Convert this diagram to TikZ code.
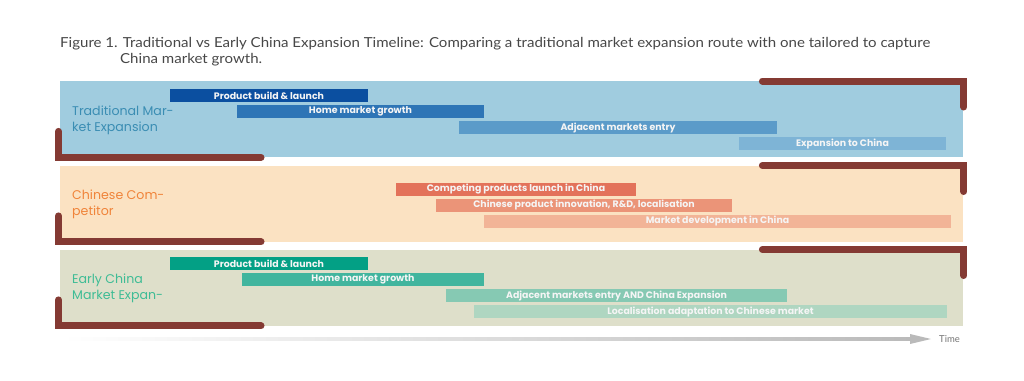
\documentclass[tikz,border=0pt]{standalone}
\usepackage{fontspec}
\setmainfont{Poppins}
\newfontfamily\titlefont[FakeStretch = 1.09]{Lato}
\newfontfamily\timefont{Lato}
\usepackage{tikz}
\usetikzlibrary{positioning}

\definecolor{bandBlue}{HTML}{A0CCDF}
\definecolor{bandPeach}{HTML}{FBE2C2}
\definecolor{bandSage}{HTML}{DEDFCA}
\definecolor{bracketRed}{HTML}{843A33}
\definecolor{tradText}{HTML}{3A8DB3}
\definecolor{compText}{HTML}{F0843A}
\definecolor{earlyText}{HTML}{3EBC95}
\definecolor{tradA}{HTML}{0B4FA0}
\definecolor{tradB}{HTML}{2E75B6}
\definecolor{tradC}{HTML}{5B9BC9}
\definecolor{tradD}{HTML}{7EB4D6}
\definecolor{compA}{HTML}{E3725A}
\definecolor{compB}{HTML}{EB9478}
\definecolor{compC}{HTML}{F2B497}
\definecolor{earlyA}{HTML}{03A085}
\definecolor{earlyB}{HTML}{41B59E}
\definecolor{earlyC}{HTML}{86C9B3}
\definecolor{earlyD}{HTML}{AFD6C1}
\definecolor{titleGray}{HTML}{474747}

\begin{document}
\begin{tikzpicture}
        [
            x = 1pt, y = -1pt,
            band/.style = {anchor = north west, inner sep = 0, minimum width = 903pt, minimum height = 76pt},
            bar/.style = {fill = #1, inner sep = 0, minimum height = 13pt, text = white!96!black,
                font = \fontsize{9.4}{10}\selectfont\bfseries},
            rowlabel/.style = {anchor = west, align = left, inner sep = 0, text = #1,
                font = \fontsize{12.6}{16}\selectfont},
            bracket/.style = {draw = bracketRed, line width = 7pt, line cap = round, line join = miter}]
        \useasboundingbox (0,0) rectangle (1024,380);
        % title
        \node [anchor = north west, align = left, inner sep = 0, text = titleGray,
            font = \titlefont\fontsize{13.8}{16}\selectfont] (title) at (60,37)
            {Figure 1. Traditional vs Early China Expansion Timeline: Comparing a traditional market expansion route with one tailored to capture\\
             \hspace*{60pt}China market growth.};
        % bands
        \node [band, fill = bandBlue] (tradBand) at (60,81) {};
        \node [band, fill = bandPeach] (compBand) at (60,165.5) {};
        \node [band, fill = bandSage] (earlyBand) at (60,249.5) {};
        % row labels
        \node [rowlabel = tradText] (tradLbl) at (72,120) {Traditional Mar-\\ket Expansion};
        \node [rowlabel = compText] (compLbl) at (72,204) {Chinese Com-\\petitor};
        \node [rowlabel = earlyText] (earlyLbl) at (72,288) {Early China\\Market Expan-};
        % traditional bars
        \node [bar = tradA, minimum width = 198pt] (tradBuild) at (269,95.5) {Product build \& launch};
        \node [bar = tradB, minimum width = 247pt] (tradHome) at (360.5,111.5) {Home market growth};
        \node [bar = tradC, minimum width = 318pt] (tradAdj) at (618,127.5) {Adjacent markets entry};
        \node [bar = tradD, minimum width = 207pt] (tradChina) at (842.5,143.5) {Expansion to China};
        % competitor bars
        \node [bar = compA, minimum width = 240pt] (compLaunch) at (516,189) {Competing products launch in China};
        \node [bar = compB, minimum width = 296pt] (compInnov) at (584,205) {Chinese product innovation, R\&D, localisation};
        \node [bar = compC, minimum width = 467pt] (compDev) at (717.5,221) {Market development in China};
        % early china bars
        \node [bar = earlyA, minimum width = 198pt] (earlyBuild) at (269,263.5) {Product build \& launch};
        \node [bar = earlyB, minimum width = 242pt] (earlyHome) at (363,279.5) {Home market growth};
        \node [bar = earlyC, minimum width = 341pt] (earlyAdj) at (616.5,295.5) {Adjacent markets entry AND China Expansion};
        \node [bar = earlyD, minimum width = 473pt] (earlyLoc) at (710.5,311.5) {Localisation adaptation to Chinese market};
        % brackets
        \foreach \b in {tradBand, compBand, earlyBand} {
            \draw [bracket] ([xshift = -201pt]\b.north east) -- ([xshift = 0.5pt]\b.north east)
                -- ([xshift = 0.5pt, yshift = -26pt]\b.north east);
            \draw [bracket] ([xshift = -1.5pt, yshift = 26pt]\b.south west) -- ([xshift = -1.5pt]\b.south west)
                -- ([xshift = 201pt]\b.south west);
        }
        % time axis
        \coordinate (timeStart) at (62,339);
        \coordinate (timeHead) at (910,339);
        \coordinate (timeTip) at (931,339);
        \node [anchor = west, inner sep = 0, text = black!55, font = \timefont\fontsize{9.5}{10}\selectfont]
            (timeLbl) at (939,339) {Time};
        \shade [left color = white, right color = black!27] ([yshift = 1.6pt]timeStart) rectangle ([yshift = -1.6pt]timeHead);
        \fill [black!27] ([yshift = 5pt]timeHead) -- (timeTip) -- ([yshift = -5pt]timeHead) -- cycle;
    \end{tikzpicture}
\end{document}
